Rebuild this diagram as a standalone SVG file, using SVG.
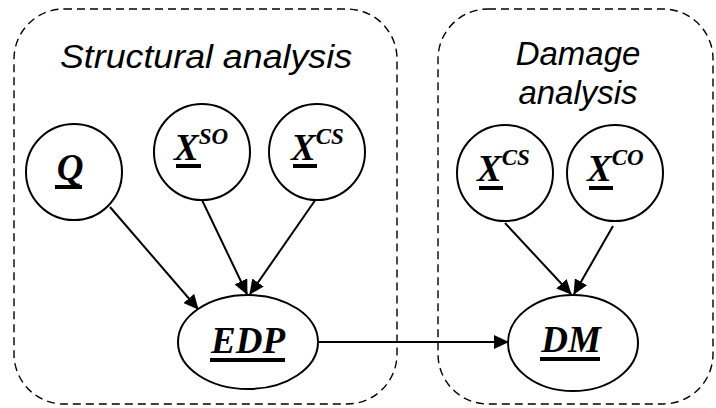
<svg xmlns="http://www.w3.org/2000/svg" width="716" height="408" viewBox="0 0 716 408">
<style>
.box{fill:none;stroke:#000;stroke-width:1.4;stroke-dasharray:8 5}
.nd{fill:#fff;stroke:#000;stroke-width:2}
.title{font-family:"Liberation Sans",Arial,sans-serif;font-style:italic;font-size:33px;fill:#000}
.lbl{font-family:"Liberation Serif","Times New Roman",serif;font-style:italic;font-weight:bold;font-size:37px;fill:#000}
.sup{font-size:23px}
.ul{stroke:#000;stroke-width:4}
.edge{stroke:#000;stroke-width:2;fill:none;marker-end:url(#ah)}
</style>
<defs>
<marker id="ah" markerWidth="15" markerHeight="14" refX="14" refY="7" orient="auto" markerUnits="userSpaceOnUse" viewBox="0 0 15 14">
<path d="M0,0 L15,7 L0,14 z" fill="#000"/>
</marker>
</defs>
<g id="structural-group">
<rect class="box" x="14" y="9" width="383" height="395" rx="50" ry="50"/>
<text class="title" x="60" y="68" textLength="292" lengthAdjust="spacingAndGlyphs">Structural analysis</text>
</g>
<g id="damage-group">
<rect class="box" x="438" y="9" width="275" height="395" rx="50" ry="50"/>
<text class="title" x="578" y="65" text-anchor="middle">Damage</text>
<text class="title" x="578" y="104" text-anchor="middle">analysis</text>
</g>
<g id="edges">
<line class="edge" x1="110" y1="207" x2="198" y2="309"/>
<line class="edge" x1="202" y1="200" x2="247" y2="294"/>
<line class="edge" x1="316" y1="199" x2="250" y2="294"/>
<line class="edge" x1="318" y1="342" x2="508" y2="342"/>
<line class="edge" x1="505" y1="223" x2="571" y2="294"/>
<line class="edge" x1="613" y1="226" x2="574" y2="294"/>
</g>
<g id="node-Q">
<circle class="nd" cx="74" cy="172" r="48"/>
<text class="lbl" x="70" y="180" text-anchor="middle">Q</text>
<line class="ul" x1="55" y1="187" x2="82" y2="187"/>
</g>
<g id="node-XSO">
<circle class="nd" cx="202" cy="152" r="48"/>
<text class="lbl" x="174" y="160">X<tspan class="sup" dy="-16">SO</tspan></text>
<line class="ul" x1="176" y1="166" x2="201" y2="166"/>
</g>
<g id="node-XCS">
<circle class="nd" cx="317" cy="152" r="48"/>
<text class="lbl" x="291" y="160">X<tspan class="sup" dy="-16">CS</tspan></text>
<line class="ul" x1="293" y1="166" x2="317" y2="166"/>
</g>
<g id="node-EDP">
<ellipse class="nd" cx="248" cy="342" rx="70" ry="47"/>
<text class="lbl" x="248" y="353" text-anchor="middle">EDP</text>
<line class="ul" x1="210" y1="360" x2="285" y2="360"/>
</g>
<g id="node-XCS2">
<circle class="nd" cx="505" cy="173" r="48"/>
<text class="lbl" x="477" y="181">X<tspan class="sup" dy="-16">CS</tspan></text>
<line class="ul" x1="479" y1="188" x2="503" y2="188"/>
</g>
<g id="node-XCO">
<circle class="nd" cx="615" cy="173" r="48"/>
<text class="lbl" x="587" y="181">X<tspan class="sup" dy="-16">CO</tspan></text>
<line class="ul" x1="589" y1="188" x2="613" y2="188"/>
</g>
<g id="node-DM">
<ellipse class="nd" cx="573" cy="343" rx="65" ry="48"/>
<text class="lbl" x="571" y="352" text-anchor="middle">DM</text>
<line class="ul" x1="540" y1="359" x2="600" y2="359"/>
</g>
</svg>
